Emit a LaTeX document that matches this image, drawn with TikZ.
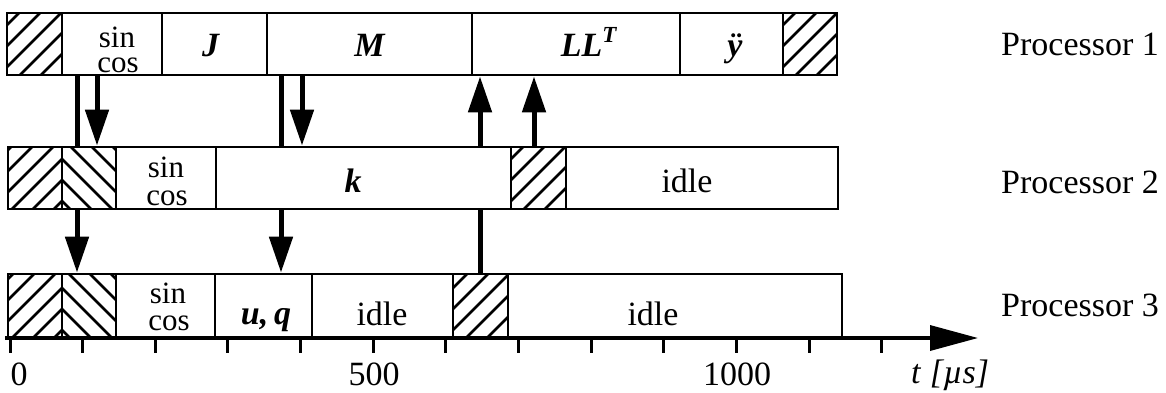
\documentclass[tikz,border=0pt]{standalone}
\usepackage{fontspec}
\setmainfont{Liberation Serif}
\usetikzlibrary{arrows.meta,fit}
\tikzset{
  segbox/.style={draw, line width=2.8pt, inner sep=0pt},
  hatchline/.style={line width=2.6pt},
  msgline/.style={line width=5pt},
  msgarrow/.style={line width=5pt, -{Triangle[length=36pt,width=23pt]}},
  axisline/.style={line width=3.5pt, -{Triangle[length=48pt,width=25pt]}},
  tickline/.style={line width=3pt},
  lbl/.style={inner sep=0pt, anchor=base, font=\fontsize{34}{40}\selectfont},
  sclbl/.style={inner sep=0pt, anchor=base, font=\fontsize{31}{36}\selectfont},
  proclbl/.style={inner sep=0pt, anchor=base west, font=\fontsize{34}{40}\selectfont},
}
% #1 x1, #2 x2, #3 ytop, #4 ybot, #5 dir (1 = /, -1 = \), #6 x0, #7 y0
\newcommand\hatchfill[7]{%
  \begin{scope}
    \clip (#1,#3) rectangle (#2,#4);
    \foreach \m in {-8,...,10} {
      \ifnum#5>0
        \draw[hatchline] ({#6-120},{#7-21*\m+120}) -- ++(240,-240);
      \else
        \draw[hatchline] ({#6-120},{#7-21*\m-120}) -- ++(240,240);
      \fi
    }
  \end{scope}}
% #1 name, #2 x1, #3 x2, #4 ytop, #5 ybot
\newcommand\segment[5]{\node[segbox, fit={(#2,#4) (#3,#5)}] (#1) {};}
\newcommand\bi[1]{\textbf{\textit{#1}}}

\begin{document}
\begin{tikzpicture}[x=1pt,y=-1pt]
\useasboundingbox (0,0) rectangle (1166,392);

% hatching
\hatchfill{7}{62}{13}{75}{1}{7}{67}
\hatchfill{783}{837}{13}{75}{1}{783}{67}
\hatchfill{8}{62}{147}{209}{1}{62}{201}
\hatchfill{62}{116}{147}{209}{-1}{62}{201}
\hatchfill{511}{566}{147}{209}{1}{511}{201}
\hatchfill{8}{62}{274}{338}{1}{62}{330}
\hatchfill{62}{116}{274}{338}{-1}{62}{330}
\hatchfill{453}{508}{274}{338}{1}{453}{330}

% Processor 1
\segment{p1h1}{7}{62}{13}{75}
\segment{p1sc}{62}{162}{13}{75}
\segment{p1J}{162}{267}{13}{75}
\segment{p1M}{267}{472}{13}{75}
\segment{p1L}{472}{680}{13}{75}
\segment{p1y}{680}{783}{13}{75}
\segment{p1h2}{783}{837}{13}{75}
% Processor 2
\segment{p2h1}{8}{62}{147}{209}
\segment{p2h2}{62}{116}{147}{209}
\segment{p2sc}{116}{216}{147}{209}
\segment{p2k}{216}{511}{147}{209}
\segment{p2h3}{511}{566}{147}{209}
\segment{p2idle}{566}{838}{147}{209}
% Processor 3
\segment{p3h1}{8}{62}{274}{338}
\segment{p3h2}{62}{116}{274}{338}
\segment{p3sc}{116}{215}{274}{338}
\segment{p3uq}{215}{312}{274}{338}
\segment{p3idle}{312}{453}{274}{338}
\segment{p3h3}{453}{508}{274}{338}
\segment{p3idleb}{508}{842}{274}{338}

% segment texts
\node[sclbl] (t1s) at (117,47) {sin};
\node[sclbl] (t1c) at (118,72) {cos};
\node[lbl] (t1J) at (211,56) {\bi{J}};
\node[lbl] (t1M) at (370,56) {\bi{M}};
\node[lbl] (t1L) at (589,56) {\bi{LL}\raisebox{14pt}{\fontsize{23}{24}\selectfont\bi{T}}};
\node[lbl] (t1y) at (735,56) {\bi{ÿ}};
\node[sclbl] (t2s) at (166,177) {sin};
\node[sclbl] (t2c) at (167,205) {cos};
\node[lbl] (t2k) at (353,192) {\bi{k}};
\node[lbl] (t2i) at (687,192) {idle};
\node[sclbl] (t3s) at (168,303) {sin};
\node[sclbl] (t3c) at (169,330) {cos};
\node[lbl] (t3u) at (266,324) {\bi{u,\,q}};
\node[lbl] (t3i) at (382,325) {idle};
\node[lbl] (t3j) at (653,325) {idle};

% message x positions
\coordinate (m1) at (97,0);
\coordinate (m2) at (77,0);
\coordinate (m3) at (302,0);
\coordinate (m4) at (281,0);
\coordinate (m5) at (480,0);
\coordinate (m6) at (534,0);

\draw[msgarrow] (m1 |- p1sc.south) -- (m1 |- p2h2.north);
\draw[msgline]  (m2 |- p1sc.south) -- (m2 |- p2h2.north);
\draw[msgarrow] (m2 |- p2h2.south) -- (m2 |- p3h2.north);
\draw[msgarrow] (m3 |- p1M.south) -- (m3 |- p2k.north);
\draw[msgline]  (m4 |- p1M.south) -- (m4 |- p2k.north);
\draw[msgarrow] (m4 |- p2k.south) -- (m4 |- p3uq.north);
\draw[msgline]  (m5 |- p3h3.north) -- (m5 |- p2k.south);
\draw[msgarrow] (m5 |- p2k.north) -- (m5 |- p1L.south);
\draw[msgarrow] (m6 |- p2h3.north) -- (m6 |- p1L.south);

% time axis
\coordinate (ax0) at (5,338);
\coordinate (ax1) at (978,338);
\draw[axisline] (ax0) -- (ax1);
\foreach \i in {0,...,12} {
  \draw[tickline] ({10+72.65*\i},338) -- ({10+72.65*\i},353);
}
\node[lbl] (l0) at (19,385) {0};
\node[lbl] (l500) at (374,385) {500};
\node[lbl] (l1000) at (737,385) {1000};
\node[proclbl] (tu) at (911,383) {\textit{t} \textit{[µs]}};

% processor labels
\node[proclbl] (P1) at (1001,55) {Processor 1};
\node[proclbl] (P2) at (1001,193) {Processor 2};
\node[proclbl] (P3) at (1001,316) {Processor 3};
\end{tikzpicture}
\end{document}
